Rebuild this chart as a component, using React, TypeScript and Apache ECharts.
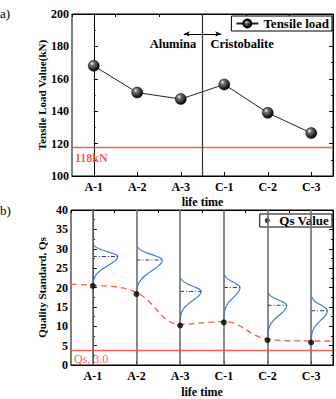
import React, { useEffect, useRef } from "react";
import * as echarts from "echarts";

const categories = ["A-1", "A-2", "A-3", "C-1", "C-2", "C-3"];
const tensileLoad = [168, 151.5, 147.5, 156.5, 139, 126.5];
const tensileLimit = 118;
const tensileLimitLabel = "118kN";
const qsValues = [20.4, 18.3, 10.2, 11.0, 6.4, 5.8];
const qsLimit = 3.7;
const qsLimitLabel = "Qs, 3.0";
const qsTrendX = [-0.5, 0, 1, 2, 3, 4, 5, 5.5];
const qsTrendY = [20.8, 20.6, 18.7, 10.5, 11.2, 6.7, 6.2, 6.2];
const distMean = [28, 27.1, 19, 20, 15.4, 14];
const distTop = [31, 30.5, 22.3, 23.3, 18.6, 17.6];
const distBottom = [20.5, 18.4, 11.5, 12, 7.2, 6.3];
const distPeak = [0.57, 0.59, 0.48, 0.37, 0.44, 0.37];

const SERIF = "Liberation Serif";

export default function App() {
  const ref = useRef<HTMLDivElement>(null);
  useEffect(() => {
    if (!ref.current) return;
    const chart = echarts.init(ref.current, null, { renderer: "svg" });
    const ball = new echarts.graphic.RadialGradient(0.35, 0.3, 0.7, [
      { offset: 0, color: "#ffffff" },
      { offset: 0.25, color: "#777777" },
      { offset: 1, color: "#000000" },
    ]);
    const tickLbl = { fontFamily: SERIF, fontWeight: "bold", fontSize: 12, color: "#000" };
    const axisLine = { show: true, lineStyle: { color: "#000", width: 1 } };
    const inTick = { show: true, inside: true, length: 4, lineStyle: { color: "#000" } };
    const minor = { show: true, splitNumber: 2, length: 2, lineStyle: { color: "#000" } };
    const nameStyle = { fontFamily: SERIF, fontWeight: "bold", fontSize: 12, color: "#000" };
    const RED = "#f4473a";

    const option: any = {
      animation: false,
      backgroundColor: "#fff",
      textStyle: { fontFamily: SERIF },
      grid: [
        { left: 72, right: 3, top: 14, height: 162, show: true, borderColor: "#000", borderWidth: 1 },
        { left: 71, right: 3, top: 210, height: 162, show: true, borderColor: "#000", borderWidth: 1 },
      ],
      xAxis: [
        {
          type: "category", gridIndex: 0, data: categories, position: "bottom",
          axisLine, axisTick: { ...inTick, alignWithLabel: true }, axisLabel: { ...tickLbl, margin: 5 },
          name: "life time", nameLocation: "middle", nameGap: 20, nameTextStyle: nameStyle,
          nameMoveOverlap: false, splitLine: { show: false },
        },
        { type: "value", gridIndex: 0, min: -0.5, max: 5.5, show: false },
        {
          type: "category", gridIndex: 0, data: categories, position: "top",
          axisLine, axisTick: { ...inTick, length: 3 }, axisLabel: { show: false },
        },
        {
          type: "category", gridIndex: 1, data: categories, position: "bottom",
          axisLine, axisTick: { ...inTick, alignWithLabel: true }, axisLabel: { ...tickLbl, margin: 5 },
          name: "life time", nameLocation: "middle", nameGap: 21, nameTextStyle: nameStyle,
          nameMoveOverlap: false,
        },
        { type: "value", gridIndex: 1, min: -0.5, max: 5.5, show: false },
        {
          type: "category", gridIndex: 1, data: categories, position: "top",
          axisLine, axisTick: { ...inTick, length: 3 }, axisLabel: { show: false },
        },
      ],
      yAxis: [
        {
          type: "value", gridIndex: 0, min: 100, max: 200, interval: 20, position: "left",
          axisLine, axisTick: inTick, minorTick: minor, splitLine: { show: false },
          axisLabel: { ...tickLbl, margin: 3 },
          name: "Tensile Load Value(kN)", nameLocation: "middle", nameGap: 25, nameMoveOverlap: false,
          nameTextStyle: { ...nameStyle, fontSize: 11 },
        },
        {
          type: "value", gridIndex: 0, min: 100, max: 200, interval: 20, position: "right",
          axisLine, axisTick: inTick, minorTick: minor, splitLine: { show: false },
          axisLabel: { show: false },
        },
        {
          type: "value", gridIndex: 1, min: 0, max: 40, interval: 5, position: "left",
          axisLine, axisTick: inTick, minorTick: minor, splitLine: { show: false },
          axisLabel: { ...tickLbl, margin: 3 },
          name: "Quality Standard, Qs", nameLocation: "middle", nameGap: 24, nameMoveOverlap: false,
          nameTextStyle: { ...nameStyle, fontSize: 11 },
        },
        {
          type: "value", gridIndex: 1, min: 0, max: 40, interval: 5, position: "right",
          axisLine, axisTick: inTick, minorTick: minor, splitLine: { show: false },
          axisLabel: { show: false },
        },
      ],
      legend: [
        {
          data: ["Tensile load"], right: 4, top: 16, itemWidth: 22, itemHeight: 10, itemGap: 4,
          padding: [1, 3, 1, 4], borderColor: "#000", borderWidth: 1, backgroundColor: "#fff",
          textStyle: { fontFamily: SERIF, fontWeight: "bold", fontSize: 13, color: "#000" },
        },
        {
          data: ["Qs Value"], right: 4, top: 214, itemWidth: 14, itemHeight: 5,
          padding: [0, 3, 0, 5], borderColor: "#000", borderWidth: 1, backgroundColor: "#fff",
          textStyle: { fontFamily: SERIF, fontWeight: "bold", fontSize: 13, color: "#000" },
        },
      ],
      graphic: [
        { type: "text", left: 0, top: 7, style: { text: "a)", fontFamily: SERIF, fontSize: 13, fill: "#000" } },
        { type: "text", left: 0, top: 204, style: { text: "b)", fontFamily: SERIF, fontSize: 13, fill: "#000" } },
      ],
      series: [
        {
          name: "Tensile load", type: "line", xAxisIndex: 1, yAxisIndex: 0,
          data: tensileLoad.map((v, i) => [i, v]),
          symbol: "circle", symbolSize: 11,
          lineStyle: { color: "#222", width: 1 },
          itemStyle: { color: ball, borderColor: "#000", borderWidth: 0.5 },
          z: 5,
          markPoint: {
            silent: true, symbol: "circle", symbolSize: 0,
            data: [
              { coord: [1.82, 181.5], label: { show: true, formatter: "Alumina", position: "inside" } },
              { coord: [3.41, 181.5], label: { show: true, formatter: "Cristobalite", position: "inside" } },
            ],
            label: { fontFamily: SERIF, fontWeight: "bold", fontSize: 12.5, color: "#000" },
          },
        },
        {
          name: "limitTop", type: "line", xAxisIndex: 1, yAxisIndex: 0, data: [], z: 2,
          markLine: {
            silent: true, symbol: "none", animation: false,
            lineStyle: { color: RED, width: 1.4, type: "solid", opacity: 0.85 },
            label: {
              show: true, position: "insideStartBottom", formatter: tensileLimitLabel, distance: [3, 5],
              color: "#e8413a", fontFamily: SERIF, fontWeight: "bold", fontSize: 12,
            },
            data: [{ yAxis: tensileLimit }],
          },
        },
        {
          name: "sepTop", type: "line", xAxisIndex: 1, yAxisIndex: 0, data: [], z: 2,
          markLine: {
            silent: true, symbol: "none", animation: false,
            lineStyle: { color: "#333", width: 1.2, type: "solid" },
            label: { show: false },
            data: [{ xAxis: 2.5 }],
          },
        },
        {
          name: "arrowTop", type: "line", xAxisIndex: 1, yAxisIndex: 0, data: [], z: 2,
          markLine: {
            silent: true, symbol: ["arrow", "arrow"], symbolSize: [4, 6], animation: false,
            lineStyle: { color: "#000", width: 1, type: "solid" },
            label: { show: false },
            data: [[{ coord: [2.07, 187.7] }, { coord: [2.93, 187.7] }]],
          },
        },
        {
          name: "gridlines", type: "line", xAxisIndex: 4, yAxisIndex: 2, data: [], z: 1,
          markLine: {
            silent: true, symbol: "none", animation: false,
            lineStyle: { color: "#6e6e6e", width: 1.6, type: "solid" },
            label: { show: false },
            data: categories.map((_, i) => ({ xAxis: i })),
          },
        },
        {
          name: "limitBottom", type: "line", xAxisIndex: 4, yAxisIndex: 2, data: [], z: 2,
          markLine: {
            silent: true, symbol: "none", animation: false,
            lineStyle: { color: RED, width: 1.4, type: "solid", opacity: 0.85 },
            label: {
              show: true, position: "insideStartBottom", formatter: qsLimitLabel, distance: [3, 2],
              color: "#e8413a", fontFamily: SERIF, fontSize: 12,
            },
            data: [{ yAxis: qsLimit }],
          },
        },
        {
          name: "trend", type: "line", xAxisIndex: 4, yAxisIndex: 2, smooth: 0.4,
          data: qsTrendX.map((x, i) => [x, qsTrendY[i]]),
          symbol: "none", lineStyle: { color: "#f0604f", width: 1.3, type: [6, 4] }, z: 3,
        },
        {
          name: "dist", type: "custom", xAxisIndex: 4, yAxisIndex: 2, z: 4,
          data: categories.map((_, i) => [i, distMean[i], distTop[i], distBottom[i], distPeak[i]]),
          renderItem: (params: any, api: any) => {
            const i = api.value(0), mean = api.value(1), top = api.value(2), bot = api.value(3), w = api.value(4);
            const pts: number[][] = [];
            const N = 60;
            for (let k = 0; k <= N; k++) {
              const y = bot + ((top - bot) * k) / N;
              const s = y < mean ? (mean - bot) / 3.2 : (top - mean) / 2.5;
              const off = w * Math.exp(-0.5 * ((y - mean) / s) ** 2);
              pts.push(api.coord([i + off, y]));
            }
            const a = api.coord([i, mean]);
            const b = api.coord([i + w, mean]);
            return {
              type: "group",
              children: [
                { type: "polyline", shape: { points: pts }, style: { stroke: "#3f7fcc", lineWidth: 1.2, fill: "none" } },
                {
                  type: "line", shape: { x1: a[0], y1: a[1], x2: b[0], y2: b[1] },
                  style: { stroke: "#2a318f", lineWidth: 1, lineDash: [4, 2, 1, 2] },
                },
              ],
            };
          },
        },
        {
          name: "Qs Value", type: "scatter", xAxisIndex: 4, yAxisIndex: 2,
          data: qsValues.map((v, i) => [i, v]), symbol: "circle", symbolSize: 6,
          itemStyle: { color: "#000" }, z: 6,
        },
      ],
    };
    chart.setOption(option);
    return () => chart.dispose();
  }, []);
  return <div ref={ref} style={{ position: "fixed", left: 0, top: 0, width: 336, height: 399 }} />;
}
